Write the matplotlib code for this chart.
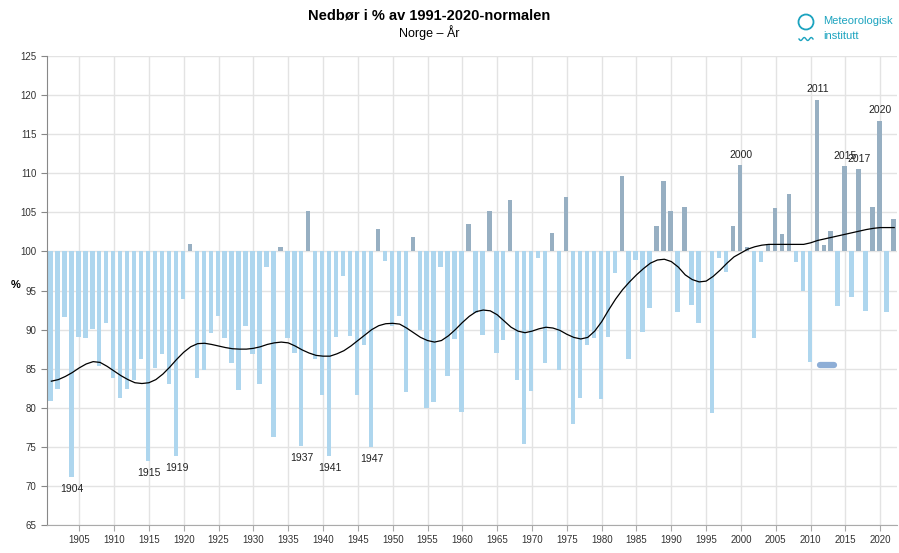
import numpy as np
import matplotlib.pyplot as plt
from matplotlib.patches import Ellipse

plt.rcParams['font.family'] = ['Liberation Sans', 'DejaVu Sans']

# precipitation in % of 1991-2020 normal, 1901-2022
years = list(range(1901, 2023))
values = [
    80.9, 82.4, 91.6, 71.1, 89.0, 88.9, 90.1, 85.4, 90.8, 83.8,   # 1901-1910
    81.3, 82.4, 83.5, 86.2, 73.2, 85.1, 86.9, 83.0, 73.8, 93.9,   # 1911-1920
    100.9, 83.8, 84.8, 89.5, 91.8, 88.9, 85.7, 82.3, 90.4, 86.9,  # 1921-1930
    83.0, 98.0, 76.3, 100.6, 88.9, 87.0, 75.1, 105.2, 86.3, 81.6, # 1931-1940
    73.8, 89.0, 96.9, 89.2, 81.6, 88.0, 75.0, 102.9, 98.8, 90.4,  # 1941-1950
    91.8, 82.0, 101.8, 89.9, 80.0, 80.7, 98.0, 84.0, 88.8, 79.4,  # 1951-1960
    103.5, 92.1, 89.3, 105.2, 87.0, 88.7, 106.6, 83.5, 75.4, 82.2, # 1961-1970
    99.1, 85.7, 102.3, 84.8, 107.0, 77.9, 81.3, 88.0, 88.9, 81.1,  # 1971-1980
    89.0, 97.3, 109.7, 86.2, 98.9, 89.7, 92.8, 103.2, 109.0, 105.2, # 1981-1990
    92.2, 105.7, 93.2, 90.9, 100.0, 79.3, 99.1, 97.4, 103.3, 111.0, # 1991-2000
    100.6, 88.9, 98.6, 101.0, 105.6, 102.2, 107.3, 98.6, 95.0, 85.9, # 2001-2010
    119.4, 100.8, 102.6, 93.0, 110.9, 94.2, 110.5, 92.4, 105.7, 116.7, # 2011-2020
    92.3, 104.2,                                                   # 2021-2022
]

# smoothed curve
smooth = [
    83.4, 83.6, 84.0, 84.5, 85.1, 85.6, 85.9, 85.8, 85.3, 84.7,
    84.1, 83.6, 83.2, 83.1, 83.2, 83.6, 84.3, 85.2, 86.2, 87.1,
    87.8, 88.2, 88.25, 88.1, 87.9, 87.7, 87.55, 87.5, 87.5, 87.6,
    87.8, 88.1, 88.3, 88.4, 88.3, 87.9, 87.4, 87.0, 86.7, 86.6,
    86.6, 86.9, 87.3, 87.9, 88.6, 89.3, 90.0, 90.5, 90.75, 90.8,
    90.7, 90.2, 89.6, 89.0, 88.6, 88.4, 88.6, 89.2, 90.0, 90.9,
    91.7, 92.3, 92.5, 92.4, 91.9, 91.1, 90.3, 89.8, 89.6, 89.8,
    90.1, 90.3, 90.2, 89.9, 89.4, 89.0, 88.8, 89.0, 89.8, 91.0,
    92.5, 93.9, 95.1, 96.1, 97.0, 97.8, 98.5, 98.9, 99.0, 98.7,
    98.0, 97.0, 96.4, 96.1, 96.2, 96.8, 97.6, 98.5, 99.3, 99.8,
    100.3, 100.6, 100.8, 100.9, 100.9, 100.9, 100.9, 100.9, 100.9, 101.1,
    101.4, 101.6, 101.8, 102.0, 102.2, 102.4, 102.6, 102.8, 102.95, 103.05,
    103.05, 103.05,
]

low_labels = [1904, 1915, 1919, 1937, 1941, 1947]
high_labels = [2000, 2011, 2015, 2017, 2020]

# small marker seen in the chart
marker_years = [2011.4, 2013.3]
marker_value = 85.5

baseline = 100
light = '#aed6ee'
dark = '#97afc2'

fig = plt.figure(figsize=(8.99, 5.53), dpi=100)
ax = fig.add_axes([46.7 / 899, 1 - 525 / 553, (897 - 46.7) / 899, (525 - 56) / 553])

vals = np.array(values)
yrs = np.array(years)
colors = [dark if v > baseline else light for v in vals]
ax.bar(yrs - 0.12, vals - baseline, bottom=baseline, width=0.63, color=colors, zorder=2)

ax.plot(yrs, smooth, color='black', lw=0.9, zorder=3)

ax.plot(marker_years, [marker_value] * 2, color='#8eaed6', lw=4.5,
        solid_capstyle='round', zorder=4)

for y in low_labels:
    v = values[years.index(y)]
    ax.text(y, v - 0.9, str(y), ha='center', va='top', fontsize=7.5, color='#222222')
for y in high_labels:
    v = values[years.index(y)]
    ax.text(y, v + 0.7, str(y), ha='center', va='bottom', fontsize=7.5, color='#222222')

ax.set_xlim(1900.33, 2022.4)
ax.set_ylim(65, 125)
ax.set_xticks(range(1905, 2021, 5))
ax.set_yticks(range(65, 126, 5))
ax.tick_params(axis='both', labelsize=7, colors='#333333', length=4, width=0.8)
ax.tick_params(axis='x', color='#aaaaaa')
ax.tick_params(axis='y', color='#888888')
ax.grid(True, color='#e3e3e3', lw=1.0, zorder=0)
ax.set_axisbelow(True)
for s in ['top', 'right']:
    ax.spines[s].set_visible(False)
ax.spines['left'].set_color('#888888')
ax.spines['bottom'].set_color('#aaaaaa')
ax.set_ylabel('%', rotation=0, fontsize=8, fontweight='bold', va='center', ha='center')
ax.yaxis.set_label_coords(-0.037, 0.512)

fig.text(429 / 899, 1 - 16 / 553, 'Nedbør i % av 1991-2020-normalen', ha='center', va='center',
         fontsize=10.5, fontweight='bold')
fig.text(429 / 899, 1 - 33 / 553, 'Norge – År', ha='center', va='center', fontsize=9)

# logo
teal = '#1ba3bf'
fig.patches.append(Ellipse((806 / 899, 1 - 22 / 553), 15 / 899, 15 / 553,
                           transform=fig.transFigure, fill=False, ec=teal, lw=1.3))
wx = np.linspace(799, 813, 30)
wy = 39 + 1.5 * np.sin((wx - 799) / 14 * 4 * np.pi)
fig.add_artist(plt.Line2D(wx / 899, 1 - wy / 553, color=teal, lw=1.0))
fig.text(823 / 899, 1 - 21 / 553, 'Meteorologisk', ha='left', va='center', fontsize=8, color=teal)
fig.text(823 / 899, 1 - 36 / 553, 'institutt', ha='left', va='center', fontsize=8, color=teal)

fig.savefig('out.png', dpi=100)
